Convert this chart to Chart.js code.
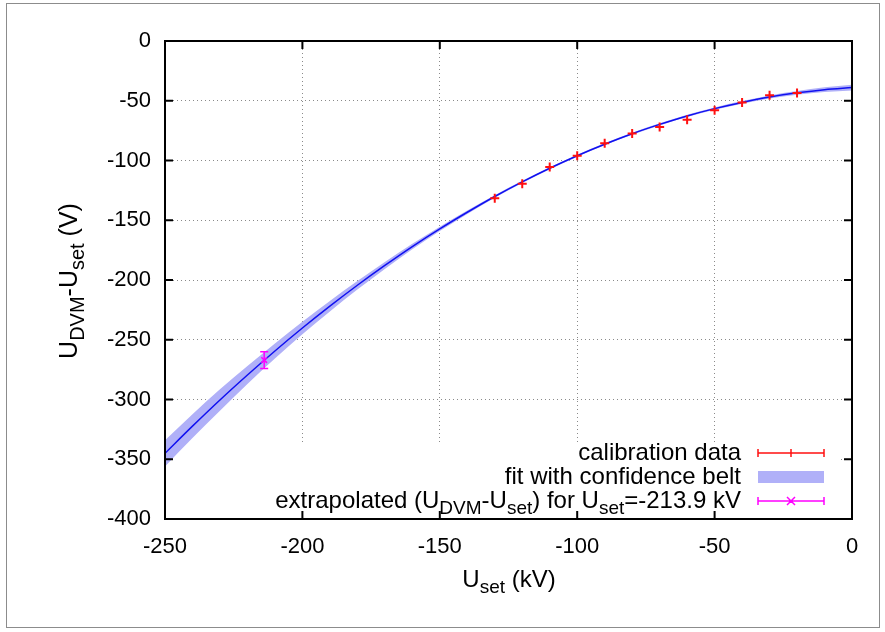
<!DOCTYPE html>
<html>
<head>
<meta charset="utf-8">
<script src="https://cdn.jsdelivr.net/npm/chart.js@4/dist/chart.umd.min.js"></script>
<style>
  html, body { margin: 0; padding: 0; background: #ffffff; }
  canvas { display: block; }
</style>
</head>
<body>
<canvas id="chart" width="885" height="632"></canvas>
<script>
// Set voltage grid for the fitted curve and its confidence belt (kV)
const fitU = [-250, -240, -230, -220, -210, -200, -190, -180, -170, -160, -150, -140, -130,
              -120, -110, -100, -90, -80, -70, -60, -50, -40, -30, -20, -10, 0];
// Fitted deviation U_DVM - U_set (V)
const fitDelta = [-345.0, -322.3, -300.4, -279.5, -259.4, -240.2, -221.9, -204.4, -187.8, -172.0,
                  -157.2, -143.3, -130.1, -117.9, -106.5, -96.0, -86.4, -77.6, -69.8, -62.7,
                  -56.6, -51.4, -46.9, -43.4, -40.7, -39.0];
// Lower and upper edge of the confidence belt (V)
const beltLow  = [-356.0, -332.3, -309.4, -287.0, -265.7, -245.5, -226.3, -208.0, -190.7, -174.3,
                  -159.0, -144.7, -131.2, -118.9, -107.4, -96.9, -87.3, -78.5, -70.7, -63.7,
                  -57.6, -52.5, -48.2, -44.9, -42.6, -41.4];
const beltHigh = [-334.0, -312.3, -291.4, -272.0, -253.1, -234.9, -217.5, -200.8, -184.9, -169.7,
                  -155.4, -141.9, -129.0, -116.9, -105.6, -95.1, -85.5, -76.7, -68.9, -61.7,
                  -55.6, -50.3, -45.6, -41.9, -38.8, -36.6];

// Calibration measurements
const calU     = [-130, -120, -110, -100, -90, -80, -70, -60, -50, -40, -30, -20];
const calDelta = [-131.5, -119.5, -105.5, -96.0, -85.5, -77.5, -72.0, -66.0, -58.0, -51.5, -45.5, -43.5];

// Extrapolated point with its uncertainty
const extrapU = [-213.9];
const extrapDelta = [-267.0];
const extrapErr = [7.0];

// Axis ticks
const xTicks = [-250, -200, -150, -100, -50, 0];
const yTicks = [0, -50, -100, -150, -200, -250, -300, -350, -400];

const FAMILY = '"Liberation Sans", Arial, Helvetica, sans-serif';
const FS = 22;      // tick labels
const FS_KEY = 24;  // key and x title
const FS_YT = 25;   // y title
const SUB = 0.8;    // subscript scale

const pts = (xs, ys) => xs.map((x, i) => ({ x: x, y: ys[i] }));

function richWidth(ctx, parts, size) {
  let w = 0;
  for (const p of parts) {
    ctx.font = (p.sub ? Math.round(size * SUB) : size) + 'px ' + FAMILY;
    w += ctx.measureText(p.t).width;
  }
  return w;
}
function drawRich(ctx, parts, x, y, size, align) {
  const w = richWidth(ctx, parts, size);
  let cx = align === 'right' ? x - w : (align === 'center' ? x - w / 2 : x);
  ctx.textAlign = 'left';
  ctx.textBaseline = 'middle';
  for (const p of parts) {
    ctx.font = (p.sub ? Math.round(size * SUB) : size) + 'px ' + FAMILY;
    ctx.fillText(p.t, cx, p.sub ? y + size * 0.34 : y);
    cx += ctx.measureText(p.t).width;
  }
}

const BELT_COLOR = 'rgb(176,176,248)';
const FIT_COLOR = '#1010f0';
const CAL_COLOR = '#ff1010';
const EXT_COLOR = '#ff00ff';

const decorations = {
  id: 'decorations',
  beforeDatasetsDraw(chart) {
    // opaque key box hides the grid behind the key
    const ctx = chart.ctx;
    ctx.save();
    ctx.fillStyle = '#ffffff';
    ctx.fillRect(172, 442, 840 - 172, chart.chartArea.bottom - 442);
    ctx.restore();
  },
  afterDatasetsDraw(chart) {
    const ctx = chart.ctx;
    const xs = chart.scales.x, ys = chart.scales.y;
    const a = chart.chartArea;

    // vertical error bar of the extrapolated point
    ctx.save();
    ctx.beginPath();
    ctx.rect(a.left, a.top, a.right - a.left, a.bottom - a.top);
    ctx.clip();
    ctx.strokeStyle = EXT_COLOR;
    ctx.lineWidth = 1.5;
    extrapU.forEach((u, i) => {
      const px = xs.getPixelForValue(u);
      const y1 = ys.getPixelForValue(extrapDelta[i] + extrapErr[i]);
      const y2 = ys.getPixelForValue(extrapDelta[i] - extrapErr[i]);
      ctx.beginPath();
      ctx.moveTo(px, y1); ctx.lineTo(px, y2);
      ctx.moveTo(px - 4, y1); ctx.lineTo(px + 4, y1);
      ctx.moveTo(px - 4, y2); ctx.lineTo(px + 4, y2);
      ctx.stroke();
    });
    ctx.restore();

    // key
    ctx.save();
    const textRight = 741, s0 = 758, s1 = 824, sm = 791;
    const rows = [453, 477, 501];
    ctx.fillStyle = '#000000';
    drawRich(ctx, [{ t: 'calibration data' }], textRight, rows[0], FS_KEY, 'right');
    drawRich(ctx, [{ t: 'fit with confidence belt' }], textRight, rows[1], FS_KEY, 'right');
    drawRich(ctx, [
      { t: 'extrapolated (U' }, { t: 'DVM', sub: true }, { t: '-U' }, { t: 'set', sub: true },
      { t: ') for U' }, { t: 'set', sub: true }, { t: '=-213.9 kV' }
    ], textRight, rows[2], FS_KEY, 'right');

    // key samples
    ctx.lineWidth = 1.5;
    ctx.strokeStyle = CAL_COLOR;
    ctx.beginPath();
    ctx.moveTo(s0, rows[0]); ctx.lineTo(s1, rows[0]);
    ctx.moveTo(s0, rows[0] - 4); ctx.lineTo(s0, rows[0] + 4);
    ctx.moveTo(s1, rows[0] - 4); ctx.lineTo(s1, rows[0] + 4);
    ctx.moveTo(sm, rows[0] - 4); ctx.lineTo(sm, rows[0] + 4);
    ctx.stroke();

    ctx.fillStyle = BELT_COLOR;
    ctx.fillRect(s0, rows[1] - 6, s1 - s0, 12);

    ctx.strokeStyle = EXT_COLOR;
    ctx.beginPath();
    ctx.moveTo(s0, rows[2]); ctx.lineTo(s1, rows[2]);
    ctx.moveTo(s0, rows[2] - 4); ctx.lineTo(s0, rows[2] + 4);
    ctx.moveTo(s1, rows[2] - 4); ctx.lineTo(s1, rows[2] + 4);
    ctx.moveTo(sm - 4, rows[2] - 4); ctx.lineTo(sm + 4, rows[2] + 4);
    ctx.moveTo(sm - 4, rows[2] + 4); ctx.lineTo(sm + 4, rows[2] - 4);
    ctx.stroke();
    ctx.restore();

    // plot frame with inward ticks on all four sides
    ctx.save();
    ctx.strokeStyle = '#000000';
    ctx.lineWidth = 2;
    ctx.strokeRect(a.left, a.top, a.right - a.left, a.bottom - a.top);
    ctx.beginPath();
    xTicks.forEach(v => {
      const px = xs.getPixelForValue(v);
      ctx.moveTo(px, a.bottom); ctx.lineTo(px, a.bottom - 8);
      ctx.moveTo(px, a.top); ctx.lineTo(px, a.top + 8);
    });
    yTicks.forEach(v => {
      const py = ys.getPixelForValue(v);
      ctx.moveTo(a.left, py); ctx.lineTo(a.left + 8, py);
      ctx.moveTo(a.right, py); ctx.lineTo(a.right - 8, py);
    });
    ctx.stroke();
    ctx.restore();

    // axis titles
    ctx.save();
    ctx.fillStyle = '#000000';
    drawRich(ctx, [{ t: 'U' }, { t: 'set', sub: true }, { t: ' (kV)' }], 509, 580, FS_KEY, 'center');
    ctx.translate(70, 281);
    ctx.rotate(-Math.PI / 2);
    drawRich(ctx, [{ t: 'U' }, { t: 'DVM', sub: true }, { t: '-U' }, { t: 'set', sub: true }, { t: ' (V)' }], 0, 0, FS_YT, 'center');
    ctx.restore();

    // outer frame
    ctx.save();
    ctx.strokeStyle = '#8c8c8c';
    ctx.lineWidth = 1;
    ctx.strokeRect(6.5, 3.5, 873, 624);
    ctx.restore();
  }
};

new Chart(document.getElementById('chart'), {
  type: 'line',
  data: {
    datasets: [
      {
        label: 'calibration data',
        data: pts(calU, calDelta),
        showLine: false,
        pointStyle: 'cross',
        pointRadius: 4.5,
        pointBorderWidth: 2,
        pointBorderColor: CAL_COLOR,
        pointBackgroundColor: CAL_COLOR
      },
      {
        label: 'extrapolated',
        data: pts(extrapU, extrapDelta),
        showLine: false,
        pointStyle: 'crossRot',
        pointRadius: 4,
        pointBorderWidth: 1.5,
        pointBorderColor: EXT_COLOR
      },
      {
        label: 'fit',
        data: pts(fitU, fitDelta),
        borderColor: FIT_COLOR,
        borderWidth: 1.5,
        pointRadius: 0,
        cubicInterpolationMode: 'monotone',
        fill: false
      },
      {
        label: 'belt upper',
        data: pts(fitU, beltHigh),
        borderWidth: 0,
        borderColor: 'rgba(0,0,0,0)',
        pointRadius: 0,
        cubicInterpolationMode: 'monotone',
        backgroundColor: BELT_COLOR,
        fill: '+1'
      },
      {
        label: 'belt lower',
        data: pts(fitU, beltLow),
        borderWidth: 0,
        borderColor: 'rgba(0,0,0,0)',
        pointRadius: 0,
        cubicInterpolationMode: 'monotone',
        fill: false
      }
    ]
  },
  options: {
    responsive: false,
    devicePixelRatio: 1,
    animation: false,
    events: [],
    layout: { padding: { top: 41, right: 33, bottom: 0, left: 0 } },
    plugins: { legend: { display: false }, tooltip: { enabled: false }, title: { display: false } },
    scales: {
      x: {
        type: 'linear',
        min: -250, max: 0,
        afterFit: s => { s.height = 113; },
        afterBuildTicks: s => { s.ticks = xTicks.map(v => ({ value: v })); },
        ticks: { color: '#000', font: { family: FAMILY, size: FS }, padding: 15, maxRotation: 0, autoSkip: false },
        grid: { color: '#8a8a8a', lineWidth: 1, drawTicks: false },
        border: { display: false, dash: [1, 3] }
      },
      y: {
        type: 'linear',
        min: -400, max: 0,
        afterFit: s => { s.width = 165; },
        afterBuildTicks: s => { s.ticks = yTicks.map(v => ({ value: v })); },
        ticks: { color: '#000', font: { family: FAMILY, size: FS }, padding: 14, autoSkip: false },
        grid: { color: '#8a8a8a', lineWidth: 1, drawTicks: false },
        border: { display: false, dash: [1, 3] }
      }
    }
  },
  plugins: [decorations]
});
</script>
</body>
</html>
